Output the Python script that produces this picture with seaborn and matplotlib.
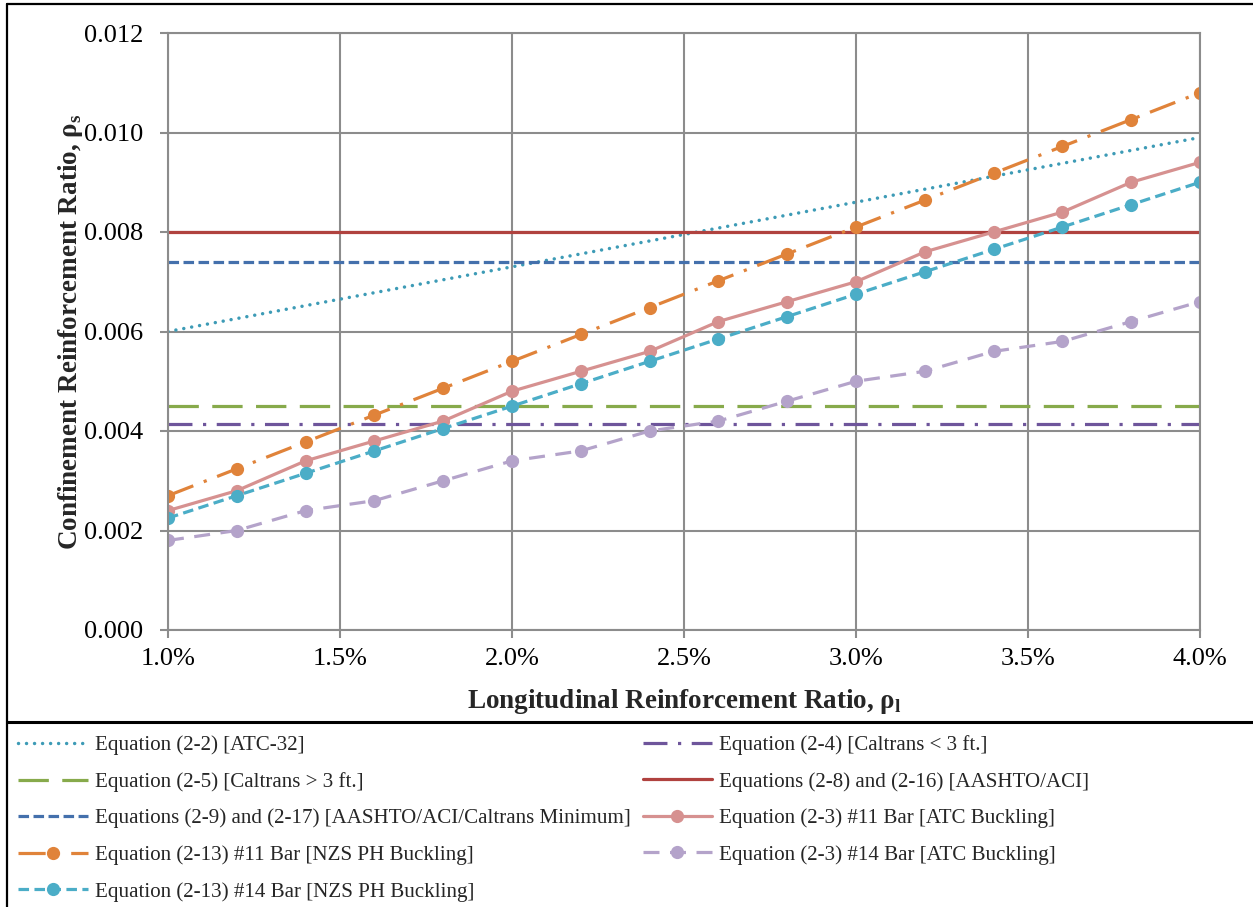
import matplotlib
matplotlib.use("Agg")
import matplotlib.pyplot as plt
from matplotlib.lines import Line2D
from matplotlib.ticker import FuncFormatter, MultipleLocator
import pandas as pd
import seaborn as sns

# Longitudinal reinforcement ratio (percent)
rho_l = [1.0, 1.2, 1.4, 1.6, 1.8, 2.0, 2.2, 2.4, 2.6, 2.8, 3.0, 3.2, 3.4, 3.6, 3.8, 4.0]

# Equation (2-2) [ATC-32] - straight line between its end points
atc32_x = [1.0, 4.0]
atc32_y = [0.0060, 0.0099]

# Constant code minimums
caltrans_small = 0.00415   # Eq (2-4), Caltrans < 3 ft
caltrans_large = 0.0045    # Eq (2-5), Caltrans > 3 ft
aashto_aci = 0.0080        # Eqs (2-8)/(2-16)
aashto_min = 0.0074        # Eqs (2-9)/(2-17)

# Buckling-based requirements
atc_11 = [0.0024, 0.0028, 0.0034, 0.0038, 0.0042, 0.0048, 0.0052, 0.0056,
          0.0062, 0.0066, 0.0070, 0.0076, 0.0080, 0.0084, 0.0090, 0.0094]
nzs_11 = [0.0027, 0.00324, 0.00378, 0.00432, 0.00486, 0.0054, 0.00594, 0.00648,
          0.00702, 0.00756, 0.0081, 0.00864, 0.00918, 0.00972, 0.01026, 0.0108]
atc_14 = [0.0018, 0.0020, 0.0024, 0.0026, 0.0030, 0.0034, 0.0036, 0.0040,
          0.0042, 0.0046, 0.0050, 0.0052, 0.0056, 0.0058, 0.0062, 0.0066]
nzs_14 = [0.00225, 0.0027, 0.00315, 0.0036, 0.00405, 0.0045, 0.00495, 0.0054,
          0.00585, 0.0063, 0.00675, 0.0072, 0.00765, 0.0081, 0.00855, 0.0090]

labels = {
    "atc32": "Equation (2-2) [ATC-32]",
    "cal_s": "Equation (2-4) [Caltrans < 3 ft.]",
    "cal_l": "Equation (2-5) [Caltrans > 3 ft.]",
    "aci": "Equations (2-8) and (2-16) [AASHTO/ACI]",
    "min": "Equations (2-9) and (2-17) [AASHTO/ACI/Caltrans Minimum]",
    "atc11": "Equation (2-3) #11 Bar [ATC Buckling]",
    "nzs11": "Equation (2-13) #11 Bar [NZS PH Buckling]",
    "atc14": "Equation (2-3) #14 Bar [ATC Buckling]",
    "nzs14": "Equation (2-13) #14 Bar [NZS PH Buckling]",
}

sns.set_theme(style="white")
plt.rcParams["font.family"] = ["Liberation Serif", "DejaVu Serif"]
plt.rcParams["mathtext.fontset"] = "custom"
plt.rcParams["mathtext.rm"] = "Liberation Serif"
plt.rcParams["mathtext.bf"] = "Liberation Serif:bold"

W, H = 1253, 907
fig = plt.figure(figsize=(W / 100, H / 100), dpi=100)
ax = fig.add_axes([168 / W, 1 - 630 / H, (1200 - 168) / W, (630 - 33) / H])

LW = 2.3
grid_c = "#8c8c8c"

def const_frame(value):
    return pd.DataFrame({"x": [rho_l[0], rho_l[-1]], "y": [value, value]})

def series_frame(xs, ys):
    return pd.DataFrame({"x": xs, "y": ys})

common = dict(ax=ax, x="x", y="y", linewidth=LW, legend=False, errorbar=None)

sns.lineplot(data=series_frame(atc32_x, atc32_y), color="#3d9bb6",
             linestyle=(0, (0.01, 2.3)), dash_capstyle="round",
             label=labels["atc32"], **{**common, "linewidth": 2.5})
sns.lineplot(data=const_frame(caltrans_small), color="#6e559b",
             linestyle=(0, (7.5, 3.3, 1.0, 3.3)), label=labels["cal_s"], **common)
sns.lineplot(data=const_frame(caltrans_large), color="#87aa4b",
             linestyle=(0, (9.5, 4.2)), label=labels["cal_l"], **common)
sns.lineplot(data=const_frame(aashto_aci), color="#b0423f",
             linestyle="-", label=labels["aci"], **common)
sns.lineplot(data=const_frame(aashto_min), color="#4470ac",
             linestyle=(0, (3.3, 1.4)), label=labels["min"], **common)

mk = dict(marker="o", markersize=9.5, markeredgewidth=0)
sns.lineplot(data=series_frame(rho_l, atc_11), color="#d69190",
             linestyle="-", label=labels["atc11"], **mk, **common)
sns.lineplot(data=series_frame(rho_l, nzs_11), color="#e0833a",
             linestyle=(0, (8.5, 3.5, 1.0, 3.5)), label=labels["nzs11"], **mk, **common)
sns.lineplot(data=series_frame(rho_l, atc_14), color="#b4a3ca",
             linestyle=(0, (5.0, 3.3)), label=labels["atc14"], **mk, **common)
sns.lineplot(data=series_frame(rho_l, nzs_14), color="#4badc7",
             linestyle=(0, (3.3, 1.7)), label=labels["nzs14"], **mk, **common)

# Axes
ax.set_xlim(1.0, 4.0)
ax.set_ylim(0.0, 0.012)
ax.xaxis.set_major_locator(MultipleLocator(0.5))
ax.yaxis.set_major_locator(MultipleLocator(0.002))
ax.xaxis.set_major_formatter(FuncFormatter(lambda v, p: f"{v:.1f}%"))
ax.yaxis.set_major_formatter(FuncFormatter(lambda v, p: f"{v:.3f}"))
ax.grid(True, color=grid_c, linewidth=1.5)
ax.set_axisbelow(True)
for s in ax.spines.values():
    s.set_color(grid_c)
    s.set_linewidth(1.5)
ax.tick_params(axis="both", which="major", direction="out", length=6, width=1.5,
               color=grid_c, labelsize=19, labelcolor="black",
               bottom=True, left=True)
ax.tick_params(axis="x", pad=7)
ax.tick_params(axis="y", pad=12)

ax.set_xlabel(r"Longitudinal Reinforcement Ratio, ρ$_{\mathregular{l}}$",
              fontsize=19.5, fontweight="bold", labelpad=12)
ax.set_ylabel(r"Confinement Reinforcement Ratio, ρ$_{\mathregular{s}}$",
              fontsize=19.5, fontweight="bold", labelpad=-1)
if ax.get_legend() is not None:
    ax.get_legend().remove()

# Legend below the plot, two columns
handles, labs = ax.get_legend_handles_labels()
order_keys = ["atc32", "cal_l", "min", "nzs11", "nzs14",
              "cal_s", "aci", "atc11", "atc14"]
lab_to_handle = dict(zip(labs, handles))
ordered = [lab_to_handle[labels[k]] for k in order_keys]
ordered_labels = [labels[k] for k in order_keys]
# pad the second column to five rows
ordered.append(Line2D([], [], linestyle="none"))
ordered_labels.append("")
fig.legend(ordered, ordered_labels, ncol=2, loc="upper left",
           bbox_to_anchor=(10 / W, 1 - 727 / H), frameon=False,
           fontsize=15.1, handlelength=3.3, handletextpad=0.33,
           columnspacing=0.6, labelspacing=0.8, borderaxespad=0.0)

# Figure frame (top and left edges) and separator above the legend
fig.add_artist(Line2D([7 / W, 1.0], [1 - 4 / H, 1 - 4 / H],
                      transform=fig.transFigure, color="black", linewidth=1.6))
fig.add_artist(Line2D([7 / W, 7 / W], [0.0, 1 - 4 / H],
                      transform=fig.transFigure, color="black", linewidth=1.6))
fig.add_artist(Line2D([7 / W, 1.0], [1 - 722 / H, 1 - 722 / H],
                      transform=fig.transFigure, color="black", linewidth=2.2))

fig.savefig("out.png", dpi=100, facecolor="white")
